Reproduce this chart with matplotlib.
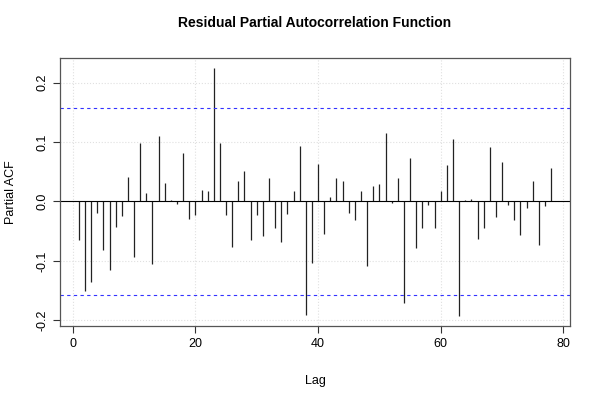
import matplotlib
matplotlib.use('Agg')
import matplotlib.pyplot as plt
import numpy as np

matplotlib.rc('font', family=['Liberation Sans', 'DejaVu Sans'], size=9)

# partial autocorrelation per lag
lags = np.arange(1, 79)
pacf = [-0.065, -0.151, -0.136, -0.020, -0.082, -0.115, -0.043, -0.024, 0.042, -0.094,
        0.098, 0.014, -0.105, 0.111, 0.032, 0.003, -0.004, 0.081, -0.029, -0.023,
        0.020, 0.017, 0.225, 0.098, -0.023, -0.076, 0.034, 0.052, -0.065, -0.023,
        -0.058, 0.040, -0.045, -0.069, -0.021, 0.018, 0.094, -0.192, -0.104, 0.063,
        -0.055, 0.008, 0.039, 0.034, -0.020, -0.031, 0.017, -0.108, 0.026, 0.030,
        0.116, -0.002, 0.039, -0.171, 0.074, -0.078, -0.044, -0.006, -0.045, 0.017,
        0.061, 0.105, -0.193, 0.002, 0.005, -0.064, -0.045, 0.091, -0.026, 0.067,
        -0.006, -0.032, -0.057, -0.011, 0.035, -0.074, -0.008, 0.056]
conf = 0.158
x_ticks = [0, 20, 40, 60, 80]
y_ticks = [-0.2, -0.1, 0.0, 0.1, 0.2]

fig = plt.figure(figsize=(6, 4), dpi=100)
ax = fig.add_axes([0.1, 0.185, 0.85, 0.67])

# light dotted grid
for xt in x_ticks:
    ax.axvline(xt, color='#e0e0e0', linestyle=':', linewidth=0.8, zorder=0)
for yt in y_ticks:
    ax.axhline(yt, color='#e0e0e0', linestyle=':', linewidth=0.8, zorder=0)

ax.vlines(lags, 0, pacf, color='#222222', linewidth=0.9)
ax.axhline(0, color='black', linewidth=0.8)
ax.axhline(conf, color='#3333ff', linestyle=(0, (3, 3)), linewidth=0.8)
ax.axhline(-conf, color='#3333ff', linestyle=(0, (3, 3)), linewidth=0.8)

span_x = lags.max() - lags.min()
ax.set_xlim(lags.min() - 0.04 * span_x, lags.max() + 0.04 * span_x)
span_y = max(pacf) - min(pacf)
ax.set_ylim(min(pacf) - 0.04 * span_y, max(pacf) + 0.04 * span_y)

ax.set_xticks(x_ticks)
ax.set_yticks(y_ticks)
ax.set_yticklabels(['-0.2', '-0.1', '0.0', '0.1', '0.2'], rotation=90, va='center')
ax.tick_params(length=5, width=0.8, color='#333333')
for s in ax.spines.values():
    s.set_color('#555555')
    s.set_linewidth(0.9)

ax.set_xlabel('Lag', labelpad=18)
ax.set_ylabel('Partial ACF', labelpad=14)
ax.set_title('Residual Partial Autocorrelation Function', fontweight='bold', fontsize=10, pad=22)

fig.savefig('out.png', dpi=100)
